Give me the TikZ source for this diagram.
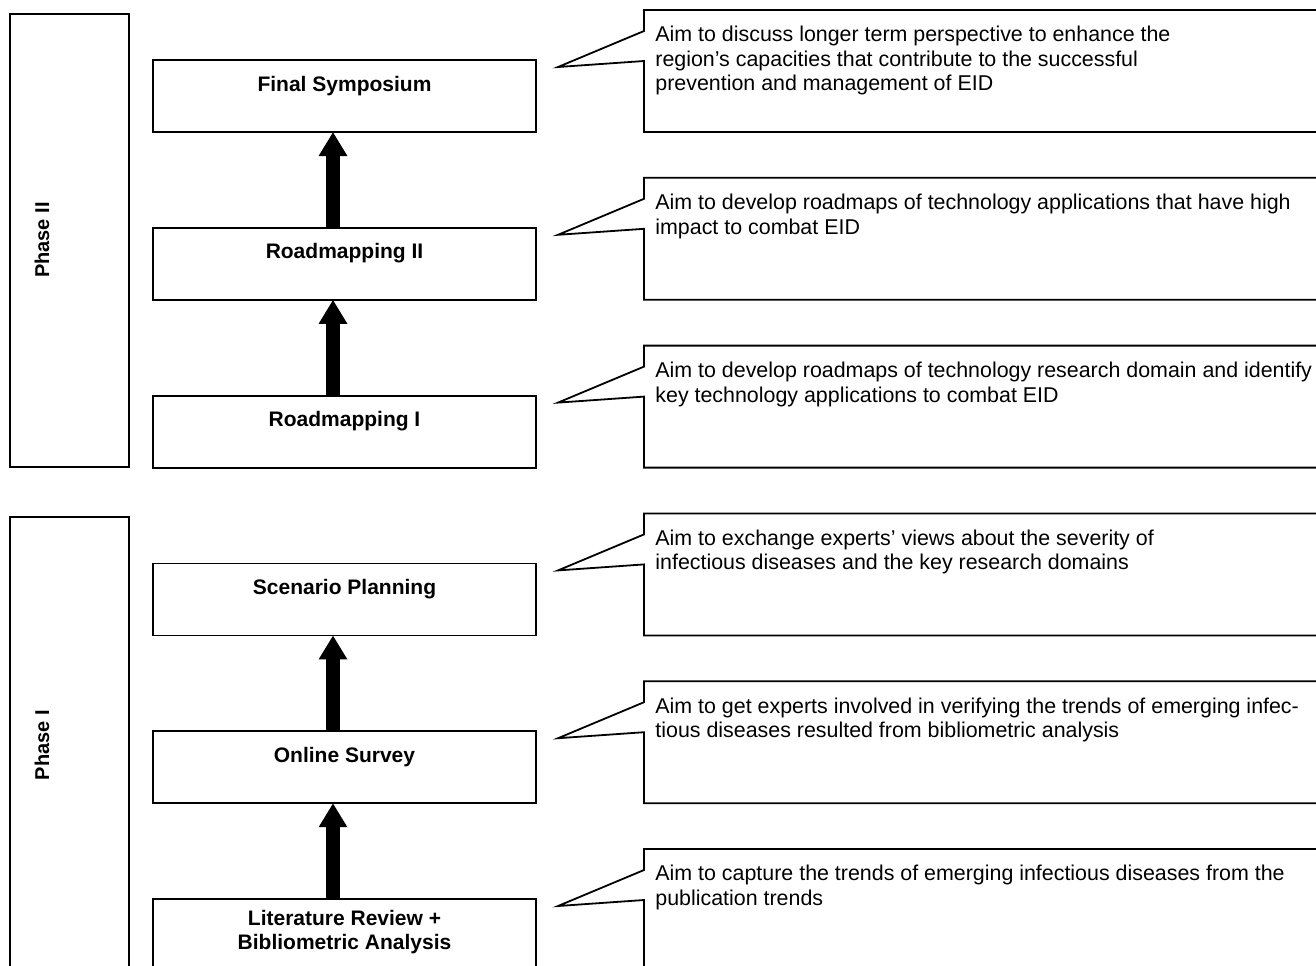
\documentclass[tikz,border=0pt]{standalone}
\usepackage{fontspec}
\setmainfont{Liberation Sans}
\usetikzlibrary{arrows.meta, positioning}
\tikzset{
    pbox/.style={draw, line width=0.9pt, outer sep=0pt, minimum width=191.5pt, minimum height=36pt,
        align=center, font=\fontsize{10.5}{12}\selectfont\bfseries, text height=7.5pt, text depth=12.5pt},
    aim/.style={anchor=north west, inner sep=0pt, align=left, font=\fontsize{10.7}{12.25}\selectfont},
    uparr/.style={line width=6.8pt, -{Triangle[width=13.5pt, length=12pt]}},
    phlbl/.style={rotate=90, font=\bfseries}
}

\begin{document}
\begin{tikzpicture}[x=0.5pt, y=-0.5pt]
    \clip (0, 0) rectangle (1316, 965);

    % phase frames
    \draw[line width=0.9pt] (10, 14) rectangle (129, 467) (10, 517) rectangle (129, 990);
    \node[phlbl] (phase2) at (42, 240) {Phase II};
    \node[phlbl] (phase1) at (42, 745) {Phase I};

    % steps, bottom to top
    \node[pbox, anchor=north, text height=19.5pt, text depth=5.3pt] (lit) at (344.5, 899)
        {Literature Review +\\Bibliometric Analysis};
    \node[pbox, above=47.9pt of lit] (survey) {Online Survey};
    \node[pbox, above=47.9pt of survey] (scen) {Scenario Planning};
    \node[pbox, above=47.9pt of scen] (road1) {Roadmapping I};
    \node[pbox, above=47.9pt of road1] (road2) {Roadmapping II};
    \node[pbox, above=47.9pt of road2] (final) {Final Symposium};

    \foreach \lo/\hi in {lit/survey, survey/scen, road1/road2, road2/final}
        \draw[uparr] ([xshift=-5.75pt]\lo.north) -- ([xshift=-5.75pt]\hi.south);

    % callouts
    \foreach \b/\txt [count=\i] in {
        132/{Aim to discuss longer term perspective to enhance the\\region’s capacities that contribute to the successful\\prevention and management of EID},
        299.8/{Aim to develop roadmaps of technology applications that have high\\impact to combat EID},
        467.6/{Aim to develop roadmaps of technology research domain and identify\\key technology applications to combat EID},
        635.4/{Aim to exchange experts’ views about the severity of\\infectious diseases and the key research domains},
        803.2/{Aim to get experts involved in verifying the trends of emerging infec-\\tious diseases resulted from bibliometric analysis},
        971/{Aim to capture the trends of emerging infectious diseases from the\\publication trends}}{
        \draw[line width=0.9pt] (644, \b-122) -- (1340, \b-122) -- (1340, \b) -- (644, \b)
            -- (644, \b-71) -- (558, \b-65) -- (644, \b-101) -- cycle;
        \node[aim] (aim\i) at (655, \b-106) {\txt};
    }
\end{tikzpicture}
\end{document}
